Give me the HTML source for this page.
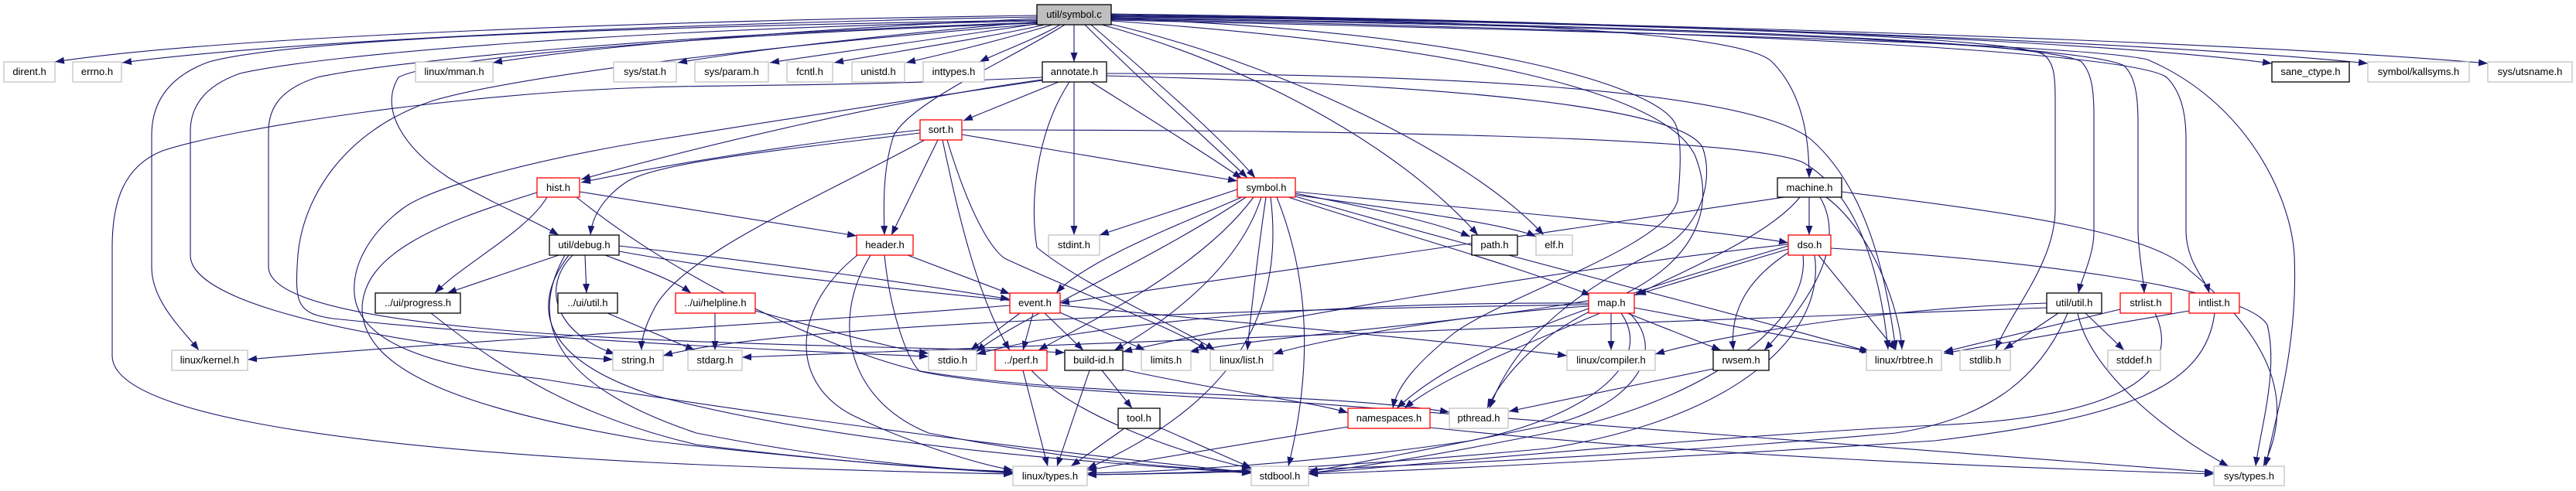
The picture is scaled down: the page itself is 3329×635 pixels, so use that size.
<!DOCTYPE html>
<html><head><meta charset="utf-8"><style>
html,body{margin:0;padding:0;background:#fff;}
svg{display:block;}
text{font-family:"Liberation Sans",Arial,sans-serif;font-size:13px;fill:#000;text-anchor:middle;}
.e{fill:none;stroke:#191970;stroke-width:1.1;marker-end:url(#ah);}
.g{fill:#fff;stroke:#bfbfbf;stroke-width:1.2;}
.k{fill:#fff;stroke:#000;stroke-width:1.3;}
.r{fill:#fff;stroke:#ff0000;stroke-width:1.3;}
.root{fill:#bfbfbf;stroke:#000;stroke-width:1.3;}
</style></head><body>
<svg width="3329" height="635" viewBox="0 0 3329 635" xmlns="http://www.w3.org/2000/svg">
<defs>
<marker id="ah" markerUnits="userSpaceOnUse" markerWidth="12" markerHeight="9" refX="12" refY="4.5" viewBox="0 0 12 9" orient="auto">
<path d="M0,0 L12,4.5 L0,9 z" fill="#191970"/>
</marker>
</defs>
<g>
<!-- util/symbol.c edges -->
<path class="e" d="M1340,20 C900,26 300,45 71,80"/>
<path class="e" d="M1340,22 C900,30 400,50 158,81"/>
<path class="e" d="M1340,24 C1100,35 800,55 637,81"/>
<path class="e" d="M1342,28 C1200,40 1000,60 876,81"/>
<path class="e" d="M1345,30 C1250,45 1100,65 995,81"/>
<path class="e" d="M1350,32 C1280,48 1150,68 1078,81"/>
<path class="e" d="M1360,32 C1300,50 1220,70 1171,81"/>
<path class="e" d="M1370,32 C1340,50 1290,68 1266,80"/>
<path class="e" d="M1388,32 L1388,80"/>
<path class="e" d="M1340,26 C800,35 380,50 270,80 C215,100 196,135 196,175 L196,345 C196,390 235,425 257,453"/>
<path class="e" d="M1340,27 C800,38 420,70 310,95 C262,112 246,140 246,170 L246,330 C246,385 420,425 580,447 C680,458 750,462 792,465"/>
<path class="e" d="M1341,29 C850,45 500,80 410,100 C362,115 347,140 347,170 L347,345 C347,425 800,440 1100,448 C1250,452 1340,454 1376,456"/>
<path class="e" d="M1342,30 C900,45 560,75 515,100 C490,140 520,190 580,230 C640,265 690,285 722,304"/>
<path class="e" d="M1344,31 C1100,50 700,90 560,130 C440,170 391,260 385,330 C380,395 385,405 430,412 C700,440 1050,455 1200,461"/>
<path class="e" d="M1376,32 C1300,80 1180,130 1155,175 C1140,220 1142,270 1143,304"/>
<path class="e" d="M1402,32 C1480,110 1560,180 1612,230"/>
<path class="e" d="M1410,32 C1500,110 1580,180 1622,230"/>
<path class="e" d="M1424,32 C1600,80 1800,180 1910,304"/>
<path class="e" d="M1430,30 C1650,80 1900,200 1995,304"/>
<path class="e" d="M1436,22 C1900,25 2250,40 2290,80 C2330,120 2338,180 2338,230"/>
<path class="e" d="M1436,24 C1900,40 2140,110 2165,160 C2175,180 2171,230 2168,260 C2150,320 1950,380 1880,430 C1830,470 1805,500 1800,528"/>
<path class="e" d="M1436,18 C2000,25 2700,50 2936,82"/>
<path class="e" d="M1436,19 C2100,28 2800,55 3060,82"/>
<path class="e" d="M1436,20 C2200,30 2900,55 3215,82"/>
<path class="e" d="M1436,21 C2200,30 2600,50 2640,70 C2655,80 2656,100 2656,130 L2656,270 C2656,340 2600,400 2579,452"/>
<path class="e" d="M1436,23 C2200,33 2650,55 2690,80 C2704,95 2706,120 2706,150 L2706,300 C2706,330 2690,360 2686,379"/>
<path class="e" d="M1436,24 C2250,35 2700,60 2745,85 C2761,100 2763,130 2763,160 L2763,300 C2764,330 2770,360 2771,379"/>
<path class="e" d="M1436,25 C2300,40 2760,70 2800,100 C2820,120 2825,150 2825,180 L2825,300 C2826,340 2850,360 2855,379"/>
<path class="e" d="M1436,26 C2300,45 2700,60 2775,77 C2900,130 2960,250 2965,330 C2970,450 2940,540 2928,603"/>
<path class="e" d="M1436,27 C1900,60 2150,120 2190,200 C2215,260 2200,330 2100,380 C1900,420 1650,432 1537,455"/>
<!-- annotate.h -->
<path class="e" d="M1368,106 L1245,156"/>
<path class="e" d="M1388,106 L1388,304"/>
<path class="e" d="M1410,106 C1480,150 1560,200 1605,231"/>
<path class="e" d="M1347,103 C1150,130 900,190 751,232"/>
<path class="e" d="M1347,100 C1100,112 900,110 840,113 C600,120 300,165 210,195 C160,215 145,260 145,320 L145,460 C145,530 400,575 840,598 C1050,608 1250,612 1309,613"/>
<path class="e" d="M1347,104 C1100,140 950,165 840,182 C700,205 560,240 520,270 C480,300 455,340 458,380 C462,430 520,470 700,490 C1000,540 1400,590 1617,611"/>
<path class="e" d="M1430,95 C1800,95 2250,110 2340,180 C2420,250 2440,380 2450,452"/>
<path class="e" d="M1430,98 C1900,110 2170,140 2200,190 C2215,230 2200,290 2150,320 C2050,370 1960,430 1925,528"/>
<path class="e" d="M1382,106 C1340,170 1330,260 1340,320 C1400,370 1520,420 1570,453"/>
<!-- sort.h -->
<path class="e" d="M1189,168 C1000,190 850,215 751,236"/>
<path class="e" d="M1189,172 C1000,195 850,210 810,235 C780,255 765,280 763,304"/>
<path class="e" d="M1212,181 L1152,304"/>
<path class="e" d="M1195,181 C1050,260 880,330 845,400 C832,425 829,440 829,453"/>
<path class="e" d="M1218,181 C1235,260 1260,380 1305,453"/>
<path class="e" d="M1224,181 C1260,300 1290,330 1300,335 C1420,390 1520,425 1560,453"/>
<path class="e" d="M1243,174 L1599,234"/>
<path class="e" d="M1243,168 C1700,168 2250,175 2330,210 C2400,250 2430,350 2440,452"/>
<!-- hist.h -->
<path class="e" d="M707,255 C680,300 600,340 562,379"/>
<path class="e" d="M749,248 L1107,305"/>
<path class="e" d="M694,249 C560,290 468,330 468,400 C470,480 600,530 840,570 C1100,600 1250,608 1309,610"/>
<path class="e" d="M745,255 C900,380 1100,460 1190,480 C1400,515 1700,505 1873,533"/>
<!-- util/debug.h -->
<path class="e" d="M722,330 L578,379"/>
<path class="e" d="M756,330 L758,379"/>
<path class="e" d="M740,330 C700,370 715,430 795,458"/>
<path class="e" d="M735,330 C690,390 690,460 840,510 C1100,580 1450,600 1617,612"/>
<path class="e" d="M782,330 C830,348 870,362 893,379"/>
<path class="e" d="M800,318 C1000,340 1200,370 1305,387"/>
<path class="e" d="M800,325 C1100,380 1700,420 2025,460"/>
<path class="e" d="M730,330 C680,420 720,500 900,560 C1100,600 1250,608 1309,611"/>
<!-- ui -->
<path class="e" d="M557,405 C650,480 750,540 900,575 C1100,600 1250,608 1309,612"/>
<path class="e" d="M785,405 L898,453"/>
<path class="e" d="M924,405 L924,453"/>
<path class="e" d="M976,402 C1080,430 1150,450 1200,457"/>
<!-- header.h -->
<path class="e" d="M1173,330 L1305,380"/>
<path class="e" d="M1108,330 C1020,400 1020,500 1108,540 C1170,570 1260,600 1309,608"/>
<path class="e" d="M1125,330 C1070,420 1100,520 1200,560 C1350,590 1500,605 1617,610"/>
<path class="e" d="M1143,330 C1150,400 1170,460 1188,480 C1300,505 1600,515 1700,522 C2200,560 2700,600 2861,611"/>
<!-- event.h -->
<path class="e" d="M1305,395 C1000,420 600,440 320,465"/>
<path class="e" d="M1318,405 L1254,453"/>
<path class="e" d="M1335,405 L1322,453"/>
<path class="e" d="M1350,405 L1400,453"/>
<path class="e" d="M1365,402 L1480,453"/>
<!-- perf / build-id / tool -->
<path class="e" d="M1322,479 L1354,603"/>
<path class="e" d="M1333,479 C1380,530 1500,580 1617,606"/>
<path class="e" d="M1408,479 L1366,603"/>
<path class="e" d="M1424,479 L1463,528"/>
<path class="e" d="M1451,478 C1600,510 1700,520 1742,534"/>
<path class="e" d="M1453,554 L1384,603"/>
<path class="e" d="M1499,553 L1617,605"/>
<!-- namespaces / rwsem -->
<path class="e" d="M1742,552 C1600,575 1450,600 1405,608"/>
<path class="e" d="M1848,553 C2200,590 2600,605 2861,613"/>
<path class="e" d="M2214,477 L1950,532"/>
<!-- symbol.h -->
<path class="e" d="M1599,245 L1421,304"/>
<path class="e" d="M1605,255 C1500,300 1400,340 1365,379"/>
<path class="e" d="M1610,255 C1500,330 1300,420 1262,455"/>
<path class="e" d="M1620,255 C1550,350 1400,420 1342,453"/>
<path class="e" d="M1630,255 C1600,350 1500,420 1440,453"/>
<path class="e" d="M1636,255 C1625,330 1615,420 1612,453"/>
<path class="e" d="M1642,255 C1660,400 1600,520 1405,606"/>
<path class="e" d="M1650,255 C1700,380 1690,500 1665,603"/>
<path class="e" d="M1674,250 C1750,265 1850,285 1900,306"/>
<path class="e" d="M1674,252 C1800,270 1950,290 1985,306"/>
<path class="e" d="M1674,248 C1900,270 2200,295 2311,314"/>
<path class="e" d="M1665,255 C1800,300 1950,340 2056,382"/>
<path class="e" d="M1674,254 C1900,320 2300,420 2415,455"/>
<!-- map.h -->
<path class="e" d="M2082,405 L2082,453"/>
<path class="e" d="M2103,405 L2224,453"/>
<path class="e" d="M2112,398 L2418,455"/>
<path class="e" d="M2068,405 C1960,450 1860,490 1815,528"/>
<path class="e" d="M2056,402 C1980,440 1940,490 1922,528"/>
<path class="e" d="M2053,396 C1900,405 1700,440 1646,458"/>
<path class="e" d="M2053,392 C1700,390 1400,420 1262,458"/>
<path class="e" d="M2053,394 C1600,400 1000,420 857,460"/>
<path class="e" d="M2106,405 C2160,460 2100,530 2000,550 C1850,580 1750,600 1691,610"/>
<path class="e" d="M2095,405 C2140,470 2050,540 1900,570 C1700,600 1500,610 1405,612"/>
<!-- dso.h -->
<path class="e" d="M2311,322 L2115,381"/>
<path class="e" d="M2312,326 C2260,360 2235,400 2240,453"/>
<path class="e" d="M2350,330 L2450,453"/>
<path class="e" d="M2311,318 C2100,380 1900,440 1805,528"/>
<path class="e" d="M2311,316 C2000,350 1600,420 1451,455"/>
<path class="e" d="M2366,321 C2600,335 2900,370 2930,420 C2945,480 2920,560 2915,603"/>
<path class="e" d="M2330,330 C2340,420 2200,520 2000,560 C1850,590 1750,605 1691,612"/>
<path class="e" d="M2345,330 C2360,430 2250,540 2000,580 C1700,608 1500,613 1405,614"/>
<!-- machine.h -->
<path class="e" d="M2338,255 L2338,304"/>
<path class="e" d="M2326,255 C2290,300 2200,340 2112,382"/>
<path class="e" d="M2306,255 C2000,300 1600,360 1370,392"/>
<path class="e" d="M2352,255 C2390,320 2330,400 2280,453"/>
<path class="e" d="M2360,255 C2420,300 2455,400 2458,452"/>
<path class="e" d="M2380,248 C2600,275 2780,300 2830,350 C2950,450 2960,530 2925,603"/>
<!-- util/util.h -->
<path class="e" d="M2645,392 C2400,400 2200,440 2139,458"/>
<path class="e" d="M2645,398 C2000,420 1200,455 959,462"/>
<path class="e" d="M2660,405 L2590,452"/>
<path class="e" d="M2695,405 L2745,453"/>
<path class="e" d="M2685,405 C2700,480 2800,560 2880,603"/>
<path class="e" d="M2672,405 C2640,480 2580,540 2450,560 C2000,600 1600,612 1405,614"/>
<!-- strlist / intlist -->
<path class="e" d="M2740,400 L2512,455"/>
<path class="e" d="M2785,405 C2820,480 2750,540 2500,550 C2200,565 1850,600 1691,612"/>
<path class="e" d="M2829,402 L2512,457"/>
<path class="e" d="M2862,405 C2850,500 2750,540 2500,570 C2200,590 1850,608 1691,613"/>
</g>
<g>
<rect class="root" x="1340" y="6" width="96" height="26"/><text x="1388" y="23">util/symbol.c</text>
<rect class="g" x="5" y="80" width="66" height="26"/><text x="38" y="97">dirent.h</text>
<rect class="g" x="94" y="80" width="63" height="26"/><text x="125.5" y="97">errno.h</text>
<rect class="g" x="537" y="80" width="100" height="26"/><text x="587" y="97">linux/mman.h</text>
<rect class="g" x="793" y="80" width="81" height="26"/><text x="833.5" y="97">sys/stat.h</text>
<rect class="g" x="898" y="80" width="95" height="26"/><text x="945.5" y="97">sys/param.h</text>
<rect class="g" x="1017" y="80" width="59" height="26"/><text x="1046.5" y="97">fcntl.h</text>
<rect class="g" x="1101" y="80" width="68" height="26"/><text x="1135" y="97">unistd.h</text>
<rect class="g" x="1193" y="80" width="79" height="26"/><text x="1232.5" y="97">inttypes.h</text>
<rect class="k" x="1347" y="80" width="83" height="26"/><text x="1388.5" y="97">annotate.h</text>
<rect class="k" x="2936" y="80" width="100" height="26"/><text x="2986" y="97">sane_ctype.h</text>
<rect class="g" x="3060" y="80" width="131" height="26"/><text x="3125.5" y="97">symbol/kallsyms.h</text>
<rect class="g" x="3215" y="80" width="109" height="26"/><text x="3269.5" y="97">sys/utsname.h</text>
<rect class="r" x="1189" y="155" width="54" height="26"/><text x="1216" y="172">sort.h</text>
<rect class="r" x="694" y="230" width="55" height="25"/><text x="721.5" y="247">hist.h</text>
<rect class="r" x="1599" y="230" width="75" height="25"/><text x="1636.5" y="247">symbol.h</text>
<rect class="k" x="2297" y="230" width="83" height="25"/><text x="2338.5" y="247">machine.h</text>
<rect class="k" x="710" y="304" width="90" height="26"/><text x="755" y="321">util/debug.h</text>
<rect class="r" x="1107" y="304" width="73" height="26"/><text x="1143.5" y="321">header.h</text>
<rect class="g" x="1355" y="304" width="66" height="26"/><text x="1388" y="321">stdint.h</text>
<rect class="k" x="1902" y="304" width="59" height="26"/><text x="1931.5" y="321">path.h</text>
<rect class="g" x="1985" y="304" width="47" height="26"/><text x="2008.5" y="321">elf.h</text>
<rect class="r" x="2311" y="304" width="55" height="26"/><text x="2338.5" y="321">dso.h</text>
<rect class="k" x="485" y="379" width="110" height="26"/><text x="540" y="396">../ui/progress.h</text>
<rect class="k" x="721" y="379" width="77" height="26"/><text x="759.5" y="396">../ui/util.h</text>
<rect class="r" x="873" y="379" width="103" height="26"/><text x="924.5" y="396">../ui/helpline.h</text>
<rect class="r" x="1305" y="379" width="65" height="26"/><text x="1337.5" y="396">event.h</text>
<rect class="r" x="2053" y="379" width="59" height="26"/><text x="2082.5" y="396">map.h</text>
<rect class="k" x="2645" y="379" width="71" height="26"/><text x="2680.5" y="396">util/util.h</text>
<rect class="r" x="2740" y="379" width="66" height="26"/><text x="2773" y="396">strlist.h</text>
<rect class="r" x="2829" y="379" width="65" height="26"/><text x="2861.5" y="396">intlist.h</text>
<rect class="g" x="222" y="453" width="98" height="26"/><text x="271" y="470">linux/kernel.h</text>
<rect class="g" x="792" y="453" width="65" height="26"/><text x="824.5" y="470">string.h</text>
<rect class="g" x="889" y="453" width="70" height="26"/><text x="924" y="470">stdarg.h</text>
<rect class="g" x="1200" y="453" width="62" height="26"/><text x="1231" y="470">stdio.h</text>
<rect class="r" x="1286" y="453" width="67" height="26"/><text x="1319.5" y="470">../perf.h</text>
<rect class="k" x="1376" y="453" width="75" height="26"/><text x="1413.5" y="470">build-id.h</text>
<rect class="g" x="1475" y="453" width="64" height="26"/><text x="1507" y="470">limits.h</text>
<rect class="g" x="1564" y="453" width="81" height="26"/><text x="1604.5" y="470">linux/list.h</text>
<rect class="g" x="2025" y="453" width="114" height="26"/><text x="2082" y="470">linux/compiler.h</text>
<rect class="k" x="2214" y="453" width="72" height="26"/><text x="2250" y="470">rwsem.h</text>
<rect class="g" x="2412" y="453" width="97" height="26"/><text x="2460.5" y="470">linux/rbtree.h</text>
<rect class="g" x="2533" y="453" width="65" height="26"/><text x="2565.5" y="470">stdlib.h</text>
<rect class="g" x="2724" y="453" width="68" height="26"/><text x="2758" y="470">stddef.h</text>
<rect class="k" x="1445" y="528" width="54" height="26"/><text x="1472" y="545">tool.h</text>
<rect class="r" x="1742" y="528" width="106" height="26"/><text x="1795" y="545">namespaces.h</text>
<rect class="g" x="1873" y="528" width="76" height="26"/><text x="1911" y="545">pthread.h</text>
<rect class="g" x="1309" y="603" width="96" height="25"/><text x="1357" y="620">linux/types.h</text>
<rect class="g" x="1617" y="603" width="74" height="25"/><text x="1654" y="620">stdbool.h</text>
<rect class="g" x="2861" y="603" width="91" height="25"/><text x="2906.5" y="620">sys/types.h</text>
</g>
</svg>
</body></html>
